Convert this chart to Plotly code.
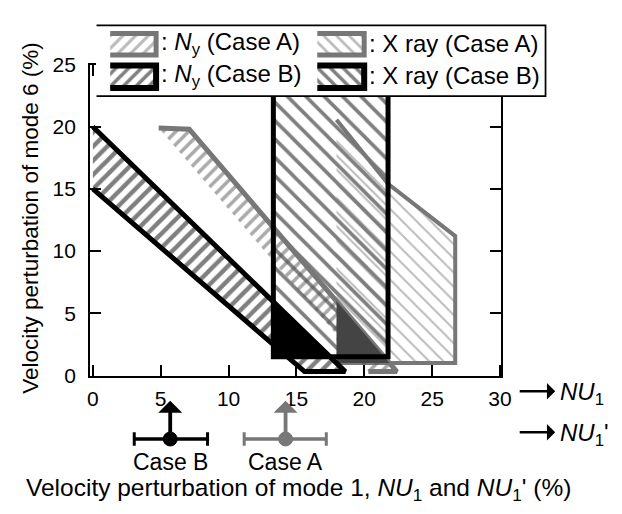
import plotly.graph_objects as go

# ---------------- data ----------------
ny_b_x = [0.0, 18.6, 15.6, 0.0]
ny_b_y = [20.0, 0.3, 0.3, 15.0]
ny_a_x = [4.85, 7.1, 22.4, 20.3]
ny_a_y = [19.9, 19.8, 0.3, 0.3]
xray_b_x = [13.3, 13.3, 21.75, 21.75]
xray_b_y = [23.0, 1.5, 1.5, 23.0]
xray_a_x = [17.95, 21.75, 26.7, 26.7, 17.95]
xray_a_y = [20.55, 15.4, 11.2, 1.0, 1.0]
overlap_b_x = [13.3, 13.3, 17.47]
overlap_b_y = [5.9, 1.5, 1.5]
overlap_a_x = [17.95, 17.95, 21.85]
overlap_a_y = [5.97, 1.0, 1.0]

case_names = ["Case B", "Case A"]
case_center = [5.7, 14.2]
case_low = [3.05, 11.15]
case_high = [8.45, 17.2]

x_ticks = [0, 5, 10, 15, 20, 25, 30]
y_ticks = [0, 5, 10, 15, 20, 25]

legend_labels = [": <i>N</i><sub>y</sub> (Case A)", ": X ray (Case A)",
                 ": <i>N</i><sub>y</sub> (Case B)", ": X ray (Case B)"]

# ---------------- styling ----------------
W, H = 622, 514
FONT = "Liberation Sans, Arial, Helvetica, sans-serif"
BLACK = "#000000"
GRAY = "#777777"
DARK = "#444444"
CLEAR = "rgba(0,0,0,0)"


def px_x(p):
    return p / W


def px_y(p):
    return (H - p) / H


fig = go.Figure()


def poly(x, y, xa="x", ya="y", line_color=BLACK, line_width=0, shape=None,
         fg=BLACK, size=10, solidity=0.2, fillcolor=CLEAR, close=True):
    kw = dict(x=x, y=y, mode="lines", xaxis=xa, yaxis=ya, showlegend=False,
              hoverinfo="skip")
    if close:
        kw["fill"] = "toself"
        kw["fillcolor"] = fillcolor
        if shape:
            kw["fillpattern"] = dict(shape=shape, fgcolor=fg, bgcolor=fillcolor,
                                     size=size, solidity=solidity)
    if line_width:
        kw["line"] = dict(color=line_color, width=line_width)
    else:
        kw["line"] = dict(color=CLEAR, width=0)
    fig.add_trace(go.Scatter(**kw))


# X ray (Case B) hatch fill (outline drawn later, on top)
poly(xray_b_x, xray_b_y, shape="\\", fg=BLACK, size=13, solidity=0.28)
# X ray (Case A)
poly(xray_a_x, xray_a_y, line_color=GRAY, line_width=4, shape="\\", fg=GRAY,
     size=10, solidity=0.2)
# N_y (Case A)
poly(ny_a_x, ny_a_y, line_color=GRAY, line_width=5, shape="/", fg="#555555",
     size=9, solidity=0.4)
# overlap areas
poly(overlap_a_x, overlap_a_y, fillcolor=DARK)
poly(overlap_b_x, overlap_b_y, fillcolor=BLACK)
# N_y (Case B)
poly(ny_b_x, ny_b_y, line_color=BLACK, line_width=5, shape="/", fg=BLACK,
     size=10, solidity=0.45)
# X ray (Case B) outline
poly(xray_b_x, xray_b_y, line_color=BLACK, line_width=5, close=False)

# ---------------- legend (own subplot) ----------------
poly([-1, 459, 459, -1], [-1, -1, 75, 75], xa="x2", ya="y2",
     line_color=BLACK, line_width=2.5, fillcolor="#ffffff")
sw_cols = [(13, 60), (225, 273)]
sw_rows = [(8, 31), (42, 66)]
sw_style = [
    dict(line_color=GRAY, line_width=5, shape="/", fg=GRAY, size=9, solidity=0.35),
    dict(line_color=GRAY, line_width=5, shape="\\", fg=GRAY, size=9, solidity=0.3),
    dict(line_color=BLACK, line_width=6, shape="/", fg=BLACK, size=9, solidity=0.4),
    dict(line_color=BLACK, line_width=6, shape="\\", fg=BLACK, size=9, solidity=0.4),
]
for i, lab in enumerate(legend_labels):
    r, c = divmod(i, 2)
    x0, x1 = sw_cols[c]
    y0, y1 = sw_rows[r]
    poly([x0, x1, x1, x0], [y0, y0, y1, y1], xa="x2", ya="y2", **sw_style[i])
    fig.add_annotation(x=x1 + 3, y=(y0 + y1) / 2 - 1, xref="x2", yref="y2",
                       text=lab, showarrow=False, xanchor="left", yanchor="middle",
                       font=dict(size=24, color=BLACK, family=FONT))

# ---------------- case markers below the axis ----------------
case_colors = [BLACK, GRAY]
y_bar = px_y(447)
for name, c, lo, hi, col in zip(case_names, case_center, case_low, case_high, case_colors):
    fig.add_shape(type="line", xref="x", yref="paper", x0=lo, x1=hi, y0=y_bar, y1=y_bar,
                  line=dict(color=col, width=3.5))
    for e in (lo, hi):
        fig.add_shape(type="line", xref="x", yref="paper", x0=e, x1=e,
                      y0=px_y(440), y1=px_y(454), line=dict(color=col, width=3))
    fig.add_shape(type="circle", xref="x", yref="paper", xsizemode="pixel",
                  ysizemode="pixel", xanchor=c, yanchor=y_bar, x0=-7, x1=7, y0=-7, y1=7,
                  fillcolor=col, line=dict(color=col, width=1))
    fig.add_annotation(x=c, y=px_y(407), xref="x", yref="paper", text="",
                       showarrow=True, ax=0, ay=38, arrowhead=1, arrowsize=1.05,
                       arrowwidth=3.8, arrowcolor=col)
    fig.add_annotation(x=c, y=px_y(471), xref="x", yref="paper", text=name,
                       showarrow=False, xanchor="center", yanchor="middle",
                       font=dict(size=23, color=BLACK, family=FONT))

# NU1 arrows on the right
for yy, lab in [(397, "<i>NU</i><sub>1</sub>"), (440, "<i>NU</i><sub>1</sub>'")]:
    fig.add_annotation(x=px_x(564), y=px_y(yy), xref="paper", yref="paper", text="",
                       showarrow=True, ax=-37, ay=0, arrowhead=1, arrowsize=1.1,
                       arrowwidth=2.5, arrowcolor=BLACK)
    fig.add_annotation(x=px_x(567), y=px_y(yy + 2), xref="paper", yref="paper", text=lab,
                       showarrow=False, xanchor="left", yanchor="middle",
                       font=dict(size=24, color=BLACK, family=FONT))

# axis titles
fig.add_annotation(x=px_x(302), y=px_y(500), xref="paper", yref="paper",
                   text="Velocity perturbation of mode 1, <i>NU</i><sub>1</sub> and <i>NU</i><sub>1</sub>' (%)",
                   showarrow=False, xanchor="center", yanchor="middle",
                   font=dict(size=24.5, color=BLACK, family=FONT))
fig.add_annotation(x=px_x(28), y=px_y(216), xref="paper", yref="paper",
                   text="Velocity perturbation of mode 6 (%)", textangle=-90,
                   showarrow=False, xanchor="center", yanchor="middle",
                   font=dict(size=22.5, color=BLACK, family=FONT))

axis_common = dict(showline=True, linecolor=BLACK, linewidth=2, mirror="ticks",
                   ticks="inside", ticklen=11, tickwidth=2, tickcolor=BLACK,
                   showgrid=False, zeroline=False,
                   tickfont=dict(size=21, color=BLACK, family=FONT))

fig.update_layout(
    width=W, height=H,
    margin=dict(l=0, r=0, t=0, b=0),
    paper_bgcolor="white", plot_bgcolor="white",
    showlegend=False,
    font=dict(family=FONT, color=BLACK),
    xaxis=dict(domain=[px_x(89), px_x(509)], range=[-0.2, 30.1], tickvals=x_ticks,
               anchor="y", ticklabelstandoff=3, **axis_common),
    yaxis=dict(domain=[px_y(381), px_y(55)], range=[-0.05, 25.0], tickvals=y_ticks,
               anchor="x", ticklabelstandoff=8, **axis_common),
    xaxis2=dict(domain=[px_x(95), px_x(555)], range=[-1.5, 459.5], visible=False,
                anchor="y2", fixedrange=True),
    yaxis2=dict(domain=[px_y(89), px_y(13)], range=[75.5, -1.5], visible=False,
                anchor="x2", fixedrange=True),
)

fig.write_html("out.html")
